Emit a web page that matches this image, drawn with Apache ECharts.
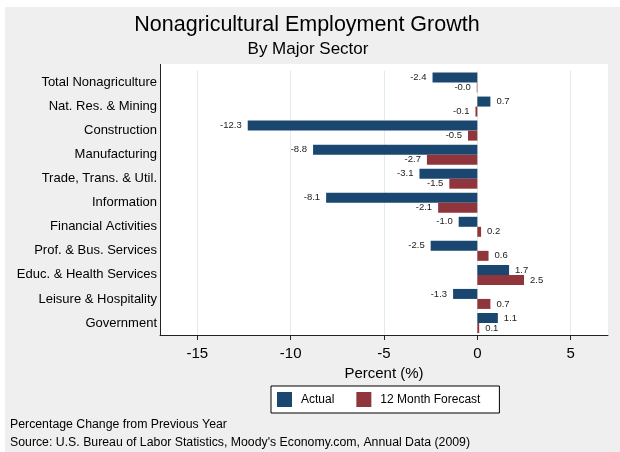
<!DOCTYPE html>
<html>
<head>
<meta charset="utf-8">
<script src="https://cdn.jsdelivr.net/npm/echarts@6/dist/echarts.min.js"></script>
<style>
  html, body { margin: 0; padding: 0; background: #fff; }
  #chart { width: 620px; height: 452px; }
</style>
</head>
<body>
<div id="chart"></div>
<script>
// sectors, top to bottom
var categories = [
  "Total Nonagriculture", "Nat. Res. & Mining", "Construction", "Manufacturing",
  "Trade, Trans. & Util.", "Information", "Financial Activities",
  "Prof. & Bus. Services", "Educ. & Health Services", "Leisure & Hospitality", "Government"
];
var actual = [-2.4, 0.7, -12.3, -8.8, -3.1, -8.1, -1.0, -2.5, 1.7, -1.3, 1.1];
// "-0.0" in the picture: a tiny negative value
var forecast = [-0.03, -0.1, -0.5, -2.7, -1.5, -2.1, 0.2, 0.6, 2.5, 0.7, 0.1];
var xTicks = [-15, -10, -5, 0, 5];

var font = "Liberation Sans, Arial, sans-serif";

function withLabels(values) {
  return values.map(function (v) {
    return { value: v, label: { position: v < 0 ? "left" : "right" } };
  });
}

var chart = echarts.init(document.getElementById("chart"));

var barLabel = {
  show: true,
  distance: 6,
  fontSize: 9.5,
  fontFamily: font,
  color: "#222",
  formatter: function (p) { return p.value.toFixed(1); }
};

var option = {
  backgroundColor: "#fff",
  animation: false,
  textStyle: { fontFamily: font },
  graphic: [
    { type: "rect", z: -10, shape: { x: 5, y: 7, width: 615, height: 445 }, style: { fill: "#efefef" } },
    { type: "rect", z: -9, shape: { x: 160, y: 64, width: 448, height: 271 }, style: { fill: "#fff" } },
    { type: "line", z: 10, shape: { x1: 160.5, y1: 64, x2: 160.5, y2: 335 }, style: { stroke: "#222", lineWidth: 1 } }
  ],
  title: [
    {
      text: "Nonagricultural Employment Growth",
      left: 307, top: 14, textAlign: "center", padding: 0,
      textStyle: { fontSize: 21.5, fontWeight: "normal", color: "#000", fontFamily: font }
    },
    {
      text: "By Major Sector",
      left: 308, top: 41, textAlign: "center", padding: 0,
      textStyle: { fontSize: 17, fontWeight: "normal", color: "#000", fontFamily: font }
    },
    {
      text: "Percentage Change from Previous Year",
      left: 10, top: 419, padding: 0,
      textStyle: { fontSize: 12.3, fontWeight: "normal", color: "#000", fontFamily: font }
    },
    {
      text: "Source: U.S. Bureau of Labor Statistics, Moody's Economy.com, Annual Data (2009)",
      left: 10, top: 437, padding: 0,
      textStyle: { fontSize: 12.3, fontWeight: "normal", color: "#000", fontFamily: font }
    }
  ],
  legend: {
    left: 271, top: 386,
    padding: [6, 19, 6, 6],
    itemWidth: 15, itemHeight: 15,
    itemGap: 22,
    borderColor: "#000", borderWidth: 1,
    backgroundColor: "#fff",
    icon: "rect",
    textStyle: { fontSize: 12, color: "#000", fontFamily: font, padding: [0, 0, 0, 4] },
    data: ["Actual", "12 Month Forecast"]
  },
  grid: { left: 160, right: 12, top: 70.5, bottom: 117, containLabel: false },
  xAxis: {
    type: "value",
    min: -17, max: 7,
    name: "Percent (%)",
    nameLocation: "middle",
    nameGap: 25,
    nameTextStyle: { fontSize: 15, color: "#000", fontFamily: font },
    axisLine: { show: true, lineStyle: { color: "#222", width: 1 } },
    axisTick: { show: true, length: 5, lineStyle: { color: "#222" }, customValues: xTicks },
    axisLabel: { fontSize: 15, color: "#000", margin: 11, customValues: xTicks, fontFamily: font },
    splitLine: { show: true, lineStyle: { color: "#e1eaee", width: 1 } }
  },
  yAxis: {
    type: "category",
    inverse: true,
    data: categories,
    axisLine: { show: false },
    axisTick: { show: false },
    axisLabel: { fontSize: 13, color: "#000", margin: 3, fontFamily: font }
  },
  series: [
    {
      name: "Actual",
      type: "bar",
      data: withLabels(actual),
      barWidth: 10,
      barGap: "0%",
      itemStyle: { color: "#1a476f" },
      label: barLabel
    },
    {
      name: "12 Month Forecast",
      type: "bar",
      data: withLabels(forecast),
      barWidth: 10,
      barGap: "0%",
      itemStyle: { color: "#90353b" },
      label: barLabel
    }
  ]
};

chart.setOption(option);
</script>
</body>
</html>
